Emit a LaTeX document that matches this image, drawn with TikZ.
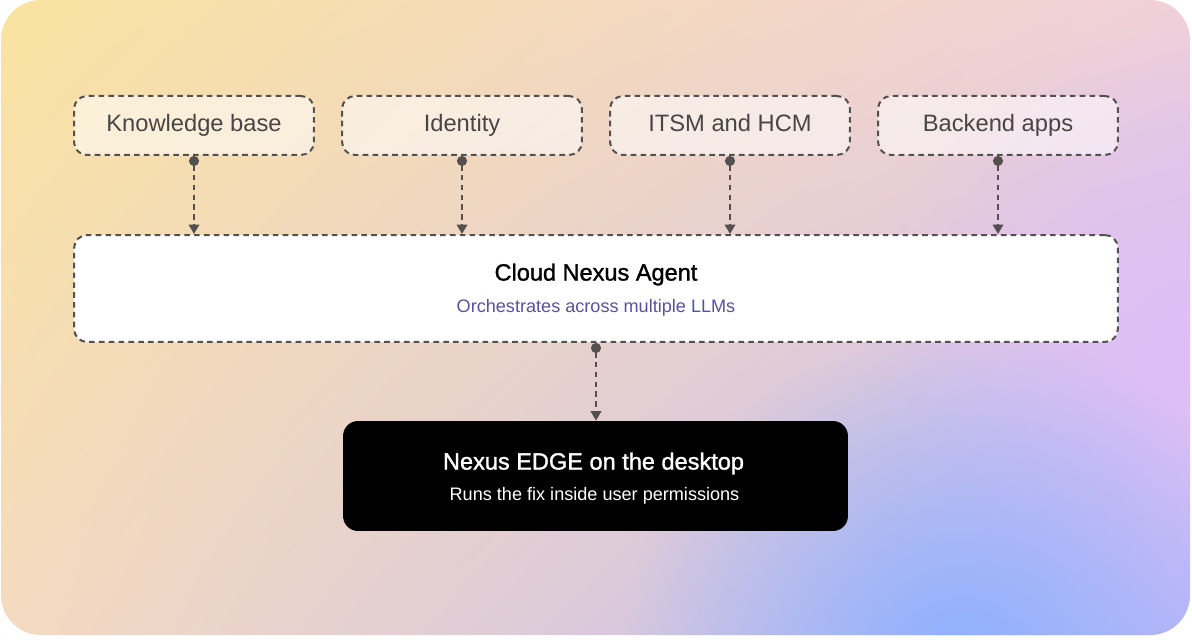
\documentclass[tikz,border=0pt]{standalone}
\usepackage{fontspec}
\setmainfont{Liberation Sans}
\newfontfamily\mediumfont[FakeBold=1.3]{Liberation Sans}
\usetikzlibrary{arrows.meta, positioning, fadings, shadings}
\definecolor{linegray}{HTML}{555050}
\definecolor{labelgray}{HTML}{4A4545}
\definecolor{subpurple}{HTML}{5A50A0}
\definecolor{bgyellow}{HTML}{F9E3A0}
\definecolor{bgpink}{HTML}{F0D0DA}
\definecolor{bgpeach}{HTML}{F4DAC0}
\definecolor{bglilac}{HTML}{C0B8F8}
\definecolor{spotlilac}{HTML}{E0BEF8}
\definecolor{spotblue}{HTML}{8CB0FF}
\tikzfading[name=softspot, inner color=transparent!0, outer color=transparent!100]

\begin{document}
\begin{tikzpicture}[x=0.02cm, y=-0.02cm,
    source/.style={draw=linegray, line width=0.4mm, dash pattern=on 3.2pt off 2.4pt,
      fill=white, fill opacity=0.55, text opacity=1, rounded corners=0.26cm,
      minimum width=4.8cm, minimum height=1.18cm, text=labelgray,
      font=\fontsize{13.5pt}{15pt}\selectfont},
    agentbox/.style={draw=linegray, line width=0.4mm, dash pattern=on 3.2pt off 2.4pt,
      fill=white, rounded corners=0.26cm, minimum width=20.88cm, minimum height=2.14cm},
    edgebox/.style={fill=black, rounded corners=0.3cm, minimum width=10.1cm, minimum height=2.2cm},
    title/.style={font=\mediumfont\fontsize{13.4pt}{15pt}\selectfont},
    subtitle/.style={font=\fontsize{10.3pt}{12pt}\selectfont},
    link/.style={draw=linegray, line width=0.4mm, dash pattern=on 3.2pt off 2.4pt,
      {Circle[length=0.2cm, width=0.2cm]}-{Triangle[length=0.19cm, width=0.21cm]}}]

  \useasboundingbox (0,0) rectangle (1192,644);

  % background
  \begin{scope}
    \clip[rounded corners=0.8cm] (1,0) rectangle (1190,635);
    \shade[upper left=bgyellow, upper right=bgpink, lower left=bgpeach, lower right=bglilac]
      (1,0) rectangle (1190,635);
    \fill[spotlilac, path fading=softspot] (1200,360) circle (330);
    \fill[spotblue, path fading=softspot] (960,670) circle (340);
  \end{scope}

  % sources
  \node[source, text depth=0.5ex] (kb) at (194,125.5) {Knowledge base};
  \node[source, text depth=0.5ex] (idn) at (462,125.5) {Identity};
  \node[source, text depth=0.5ex] (itsm) at (730,125.5) {ITSM and HCM};
  \node[source, text depth=0.5ex] (apps) at (998,125.5) {Backend apps};

  % agent
  \node[agentbox] (agent) at (596,288.5) {};
  \node[title] (agenttitle) at (596,274.5) {Cloud Nexus Agent};
  \node[subtitle, text=subpurple] (agentsub) at (596,308) {Orchestrates across multiple LLMs};

  % desktop
  \node[edgebox] (edge) at (595.5,476) {};
  \node[title, text=white] (edgetitle) at (593.5,463.5) {Nexus EDGE on the desktop};
  \node[subtitle, text=white] (edgesub) at (594.5,496) {Runs the fix inside user permissions};

  \foreach \src in {kb, idn, itsm, apps}
    \draw[link] (\src.south) -- (\src.south |- agent.north);
  \draw[link] (agent.south) -- (agent.south |- edge.north);
\end{tikzpicture}
\end{document}
